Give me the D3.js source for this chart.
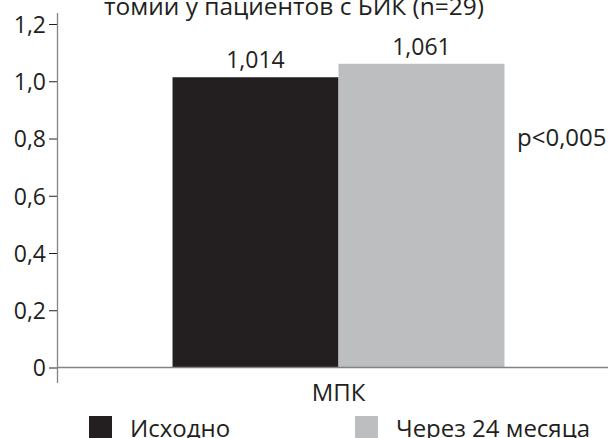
<!DOCTYPE html>
<html>
<head>
<meta charset="utf-8">
<script src="https://cdn.jsdelivr.net/npm/d3@7"></script>
<style>
  html, body { margin: 0; padding: 0; background: #fff; }
  svg { display: block; }
  text { font-family: "Open Sans", "Noto Sans", sans-serif; fill: #231f20; }
</style>
</head>
<body>
<svg id="chart" width="608" height="438"></svg>
<script>
const categories = ["МПК"];
const seriesNames = ["Исходно", "Через 24 месяца"];
const seriesValues = [1.014, 1.061];
const valueLabels = ["1,014", "1,061"];
const yTicks = [0, 0.2, 0.4, 0.6, 0.8, 1.0, 1.2];
const yTickLabels = ["0", "0,2", "0,4", "0,6", "0,8", "1,0", "1,2"];
const colors = ["#231f20", "#bcbec0"];
const titleText = "томии у пациентов с БИК (n=29)";
const pText = "p<0,005";

const svg = d3.select("#chart");
const fsText = 24;
const fsNum = 23;

const y = d3.scaleLinear().domain([0, 1.2]).range([367.5, 24]);
const x0 = d3.scaleBand().domain(categories).range([57, 620]).paddingInner(0).paddingOuter(0.348);
const x1 = d3.scaleBand().domain(seriesNames).range([0, x0.bandwidth()]).padding(0);

// title (cut off at top, as in the source)
svg.append("text").attr("x", 104).attr("y", 15).attr("font-size", fsText)
  .attr("textLength", 380).attr("lengthAdjust", "spacingAndGlyphs").text(titleText);

// y axis
const yAxis = d3.axisLeft(y).tickValues(yTicks)
  .tickFormat((d, i) => yTickLabels[i]).tickSize(8).tickPadding(3).tickSizeOuter(0);
const gy = svg.append("g").attr("transform", "translate(57,0)").call(yAxis);
gy.select(".domain").remove();
gy.selectAll(".tick line").attr("stroke", "#231f20").attr("stroke-width", 1);
gy.selectAll(".tick text").attr("font-size", fsNum).attr("font-family", "Open Sans").attr("fill", "#231f20").attr("dy", "0.36em");
svg.append("line").attr("x1", 57.5).attr("x2", 57.5).attr("y1", 13).attr("y2", 383)
  .attr("stroke", "#808285").attr("stroke-width", 1.3);

// bars
const g = svg.append("g");
categories.forEach(cat => {
  seriesNames.forEach((s, i) => {
    const bx = x0(cat) + x1(s);
    g.append("rect")
      .attr("x", bx).attr("y", y(seriesValues[i]))
      .attr("width", x1.bandwidth()).attr("height", y(0) - y(seriesValues[i]))
      .attr("fill", colors[i]);
    g.append("text")
      .attr("x", bx + x1.bandwidth() / 2).attr("y", y(seriesValues[i]) - 9)
      .attr("text-anchor", "middle").attr("font-size", fsNum).text(valueLabels[i]);
  });
});

// x axis
svg.append("line").attr("x1", 57).attr("x2", 608).attr("y1", y(0)).attr("y2", y(0))
  .attr("stroke", "#808285").attr("stroke-width", 1.3);
const xAxis = d3.axisBottom(x0).tickSize(0).tickPadding(0);
const gx = svg.append("g").attr("transform", `translate(0,${y(0)})`).call(xAxis);
gx.select(".domain").remove();
gx.selectAll(".tick text").attr("font-size", fsText).attr("font-family", "Open Sans")
  .attr("fill", "#231f20").attr("dy", 0).attr("y", 33);

// p-value
svg.append("text").attr("x", 517).attr("y", 146).attr("font-size", fsText).text(pText);

// legend
const legendX = [89, 355];
seriesNames.forEach((s, i) => {
  svg.append("rect").attr("x", legendX[i]).attr("y", 416).attr("width", 23).attr("height", 23).attr("fill", colors[i]);
  svg.append("text").attr("x", legendX[i] + 41).attr("y", 437).attr("font-size", fsText).text(s);
});
</script>
</body>
</html>
